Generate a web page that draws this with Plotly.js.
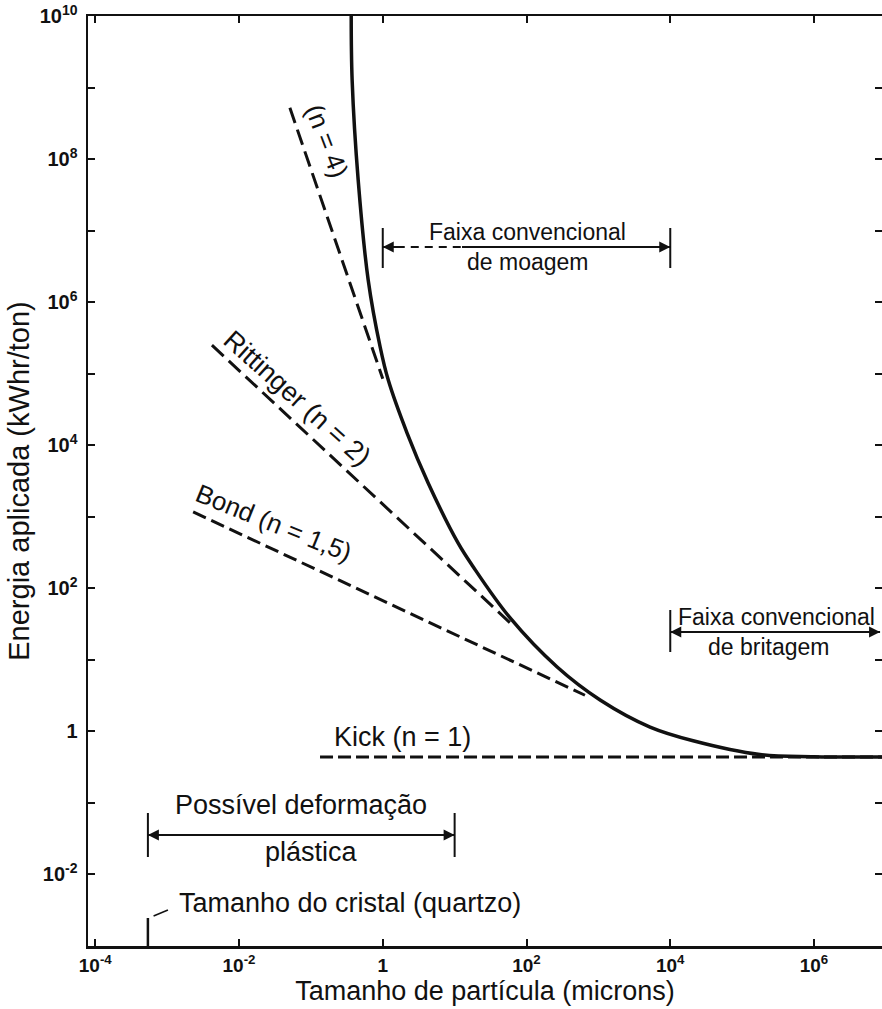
<!DOCTYPE html>
<html>
<head>
<meta charset="utf-8">
<script src="https://cdn.plot.ly/plotly-3.0.1.min.js"></script>
<style>
html,body{margin:0;padding:0;background:#fff;}
#chart{width:882px;height:1009px;}
</style>
</head>
<body>
<div id="chart"></div>
<script>
// ---- data ----
// main (solid) curve: particle size (microns) vs applied energy (kWhr/ton)
const curveX = [0.364, 0.375, 0.455, 0.627, 0.92, 1.19, 2.18, 4.28, 11.2, 18.1, 59.2, 267, 1057, 5236, 2.08e4, 1.77e5, 1.0e6, 1.0e7];
const curveY = [1e10, 1.27e9, 5.1e7, 2.04e6, 2.36e5, 8.2e4, 1.48e4, 2.97e3, 427, 200, 38.5, 7.94, 2.75, 1.15, 0.74, 0.475, 0.443, 0.44];
// dashed laws
const n4X = [0.051, 1.0];
const n4Y = [5.2e8, 8.5e4];
const rittX = [0.0042, 59];
const rittY = [2.5e5, 33];
const bondX = [0.0023, 650];
const bondY = [1170, 3.2];
const kickX = [0.134, 1.0e7];
const kickY = [0.44, 0.44];
// ranges marked on the chart
const moagemRange = [1, 1e4];
const britagemStart = 1e4;
const britagemEnd = 8.3e6;
const deformRange = [5.4e-4, 10];
const cristalSize = 5.4e-4;
// tick labels
const xTickVals = [1e-4, 1e-2, 1, 1e2, 1e4, 1e6];
const xTickText = ["10<sup>-4</sup>", "10<sup>-2</sup>", "1", "10<sup>2</sup>", "10<sup>4</sup>", "10<sup>6</sup>"];
const yTickVals = [1e-3, 1e-2, 1e-1, 1, 1e1, 1e2, 1e3, 1e4, 1e5, 1e6, 1e7, 1e8, 1e9, 1e10];
const yTickText = ["", "10<sup>-2</sup>", "", "1", "", "10<sup>2</sup>", "", "10<sup>4</sup>", "", "10<sup>6</sup>", "", "10<sup>8</sup>", "", "10<sup>10</sup>"];

// ---- geometry helpers (pixel -> log axis coords, for label placement) ----
const XR = [-4.101, 6.946], YR = [-3, 10];
const L = 88, R = 882, T = 16, B = 946;
const lx = px => XR[0] + (px - L) / (R - L) * (XR[1] - XR[0]);
const ly = py => YR[1] - (py - T) / (B - T) * (YR[1] - YR[0]);
const lg = Math.log10;

const FONT = "Liberation Sans, Arial, Helvetica, sans-serif";
const blk = "#111";

const traces = [];
function line(x, y, opts) {
  traces.push(Object.assign({
    type: 'scatter', mode: 'lines', x: x, y: y, hoverinfo: 'skip', showlegend: false,
    line: {color: blk, width: 2}
  }, opts || {}));
}
// laws (dashed)
line(n4X, n4Y, {line: {color: blk, width: 3, dash: '16px,7px'}});
line(rittX, rittY, {line: {color: blk, width: 3, dash: '16px,7px'}});
line(bondX, bondY, {line: {color: blk, width: 3, dash: '14px,6px'}});
line(kickX, kickY, {line: {color: blk, width: 3, dash: '13px,5px'}});
// main curve
line(curveX, curveY, {line: {color: blk, width: 3.5, shape: 'spline', smoothing: 1}});

// moagem range
const yMo = Math.pow(10, ly(247));
const yMoTop = Math.pow(10, ly(228)), yMoBot = Math.pow(10, ly(268));
const xMoSplit = Math.pow(10, lx(462));
line([moagemRange[0], moagemRange[0]], [yMoTop, yMoBot]);
line([moagemRange[1], moagemRange[1]], [yMoTop, yMoBot]);
line([moagemRange[0], xMoSplit], [yMo, yMo], {line: {color: blk, width: 2, dash: '8px,6px'}});
line([xMoSplit, moagemRange[1]], [yMo, yMo]);
// britagem range
const yBr = Math.pow(10, ly(632));
line([britagemStart, britagemStart], [Math.pow(10, ly(610)), Math.pow(10, ly(652))]);
line([britagemStart, britagemEnd], [yBr, yBr]);
// deformation range
const yDe = Math.pow(10, ly(835));
const yDeTop = Math.pow(10, ly(813)), yDeBot = Math.pow(10, ly(857));
line([deformRange[0], deformRange[0]], [yDeTop, yDeBot]);
line([deformRange[1], deformRange[1]], [yDeTop, yDeBot]);
line(deformRange, [yDe, yDe]);
// crystal size mark
line([cristalSize, cristalSize], [Math.pow(10, ly(918)), 1e-3], {line: {color: blk, width: 2.5}});
line([cristalSize * 1.2, cristalSize * 1.9], [Math.pow(10, ly(916)), Math.pow(10, ly(910))], {line: {color: blk, width: 1.5}});

const ann = [];
function txt(text, px, py, size, angle, xanchor) {
  ann.push({x: lx(px), y: ly(py), xref: 'x', yref: 'y', text: text, showarrow: false,
    textangle: angle || 0, xanchor: xanchor || 'center', yanchor: 'middle',
    font: {family: FONT, size: size, color: blk}});
}
function arrowHead(xv, yv, dir) {
  ann.push({x: lg(xv), y: lg(yv), xref: 'x', yref: 'y', text: '', showarrow: true,
    ax: dir * 16, ay: 0, arrowhead: 2, arrowsize: 1.1, arrowwidth: 2, arrowcolor: blk});
}
arrowHead(moagemRange[0], yMo, 1);
arrowHead(moagemRange[1], yMo, -1);
arrowHead(britagemStart, yBr, 1);
arrowHead(britagemEnd, yBr, -1);
arrowHead(deformRange[0], yDe, 1);
arrowHead(deformRange[1], yDe, -1);

txt("(n = 4)", 327, 141, 26, 69);
txt("Rittinger (n = 2)", 297, 398, 27, 42);
txt("Bond (n = 1,5)", 274, 523, 26, 22);
txt("Kick (n = 1)", 402, 737, 27);
txt("Faixa convencional", 527, 232, 23);
txt("de moagem", 527, 262, 23);
txt("Faixa convencional", 776, 617, 23);
txt("de britagem", 768, 647, 23);
txt("Possível deformação", 301, 805, 27);
txt("plástica", 311, 852, 27);
txt("Tamanho do cristal (quartzo)", 177, 903, 27, 0, 'left');

const axisCommon = {
  type: 'log', showline: true, linecolor: blk, linewidth: 2.5, mirror: 'ticks',
  ticks: 'inside', ticklen: 7, tickwidth: 2, tickcolor: blk, showgrid: false, zeroline: false,
  tickmode: 'array', tickfont: {family: FONT, size: 20, color: blk, weight: 700}
};

const layout = {
  width: 882, height: 1009,
  margin: {l: L, r: 882 - R, t: T, b: 1009 - B},
  paper_bgcolor: '#fff', plot_bgcolor: '#fff',
  showlegend: false,
  xaxis: Object.assign({}, axisCommon, {
    range: XR, tickvals: xTickVals, ticktext: xTickText, ticklabelstandoff: 1,
    tickfont: {family: FONT, size: 19, color: blk, weight: 700},
    title: {text: 'Tamanho de partícula (microns)', standoff: 4, font: {family: FONT, size: 27, color: blk}}
  }),
  yaxis: Object.assign({}, axisCommon, {
    range: YR, tickvals: yTickVals, ticktext: yTickText, ticklabelstandoff: 4,
    title: {text: 'Energia aplicada (kWhr/ton)', standoff: 2, font: {family: FONT, size: 29, color: blk}}
  }),
  annotations: ann
};

Plotly.newPlot('chart', traces, layout, {staticPlot: true, displayModeBar: false});
</script>
</body>
</html>
